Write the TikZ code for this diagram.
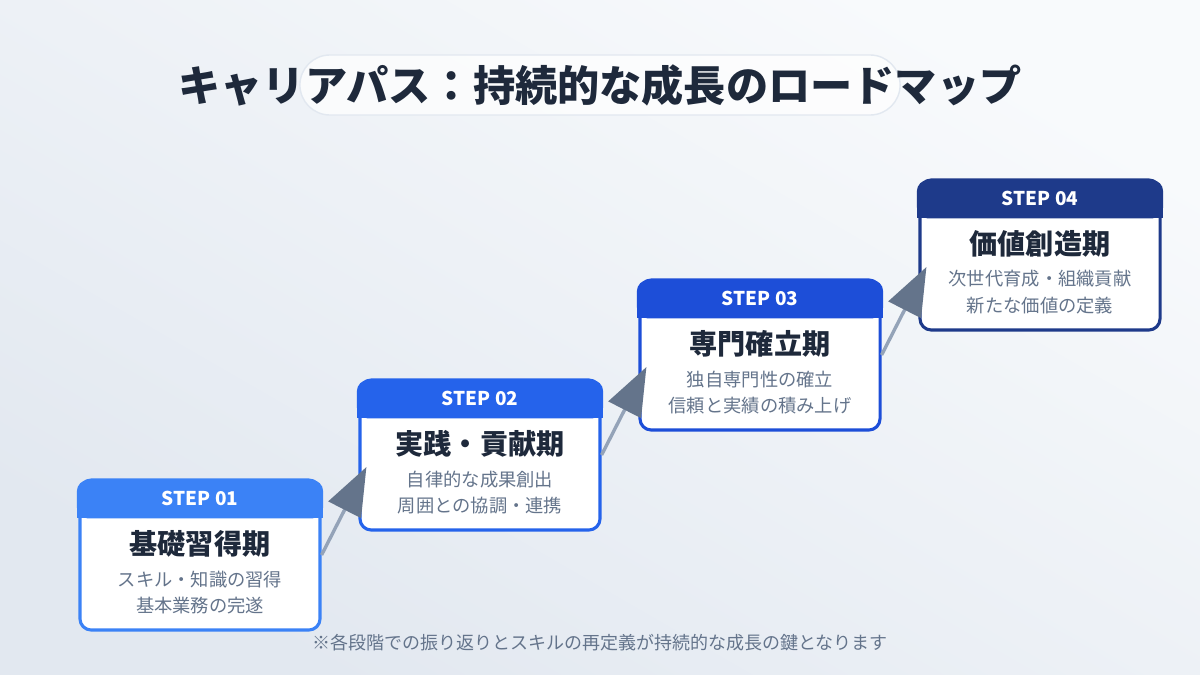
\documentclass[tikz,border=0pt]{standalone}
\usepackage{fontspec}
\setmainfont{Noto Sans CJK JP}
\usetikzlibrary{arrows.meta,positioning,calc}
\definecolor{ink}{HTML}{1E293B}
\definecolor{muted}{HTML}{64748B}
\definecolor{linkc}{HTML}{94A3B8}
\definecolor{tipc}{HTML}{64748B}
\definecolor{cA}{HTML}{3B82F6}
\definecolor{cB}{HTML}{2563EB}
\definecolor{cC}{HTML}{1D4ED8}
\definecolor{cD}{HTML}{1E3A8A}
\definecolor{bgA}{HTML}{F8FAFC}
\definecolor{bgB}{HTML}{E2E8F0}

\begin{document}
\begin{tikzpicture}[
    x=0.025cm, y=-0.025cm,
    card/.style={rectangle,draw=#1,line width=2.2pt,fill=white,rounded corners=8pt,minimum width=6cm,minimum height=3.75cm,inner sep=0pt},
    phase/.style={text=ink,font=\bfseries\fontsize{20}{24}\selectfont},
    note/.style={text=muted,align=center,font=\fontsize{13}{19}\selectfont},
    link/.style={linkc,line width=2.4pt,-{Triangle[length=12mm,width=9mm,fill=tipc,color=tipc]}}
]
% Background
\shade[top color=bgA,bottom color=bgB,shading angle=-30] (0,0) rectangle (1200,675);
\useasboundingbox (0,0) rectangle (1200,675);

% Title
\node[draw=bgB,line width=1pt,fill=white,fill opacity=0.7,rounded corners=30*0.025cm,minimum width=15cm,minimum height=1.5cm] (pill) at (600,85) {};
\node[text=ink,font=\bfseries\fontsize{30}{34}\selectfont] (title) at (600,85) {キャリアパス：持続的な成長のロードマップ};

% Steps
\foreach \i/\x/\y/\c/\name/\lineA/\lineB in {
    1/200/555/cA/基礎習得期/スキル・知識の習得/基本業務の完遂,
    2/480/455/cB/実践・貢献期/自律的な成果創出/周囲との協調・連携,
    3/760/355/cC/専門確立期/独自専門性の確立/信頼と実績の積み上げ,
    4/1040/255/cD/価値創造期/次世代育成・組織貢献/新たな価値の定義}{
  \node[card=\c] (s\i) at (\x,\y) {};
  \fill[\c,rounded corners=8pt] ($(s\i.north west)+(-1.1pt,-1.1pt)$) rectangle ($(s\i.north east)+(1.1pt,-40*0.025cm)$);
  \fill[\c] ($(s\i.north west)+(-1.1pt,-25*0.025cm)$) rectangle ($(s\i.north east)+(1.1pt,-40*0.025cm)$);
  \node[text=white,font=\bfseries\fontsize{13.5}{16}\selectfont] (h\i) at ($(s\i.north)+(0,-20*0.025cm)$) {STEP 0\i};
  \node[phase] (p\i) at ($(s\i.north)+(0,-65*0.025cm)$) {\name};
  \node[note] (n\i) at ($(s\i.north)+(0,-114*0.025cm)$) {\lineA\\\lineB};
}

% Arrows
\draw[link] (s1.east) -- ($(s2.west)+(8*0.025cm,-12*0.025cm)$);
\draw[link] (s2.east) -- ($(s3.west)+(8*0.025cm,-12*0.025cm)$);
\draw[link] (s3.east) -- ($(s4.west)+(8*0.025cm,-12*0.025cm)$);

% Footer
\node[text=muted,font=\fontsize{12.8}{14}\selectfont] (foot) at (600,643) {※各段階での振り返りとスキルの再定義が持続的な成長の鍵となります};
\end{tikzpicture}
\end{document}
